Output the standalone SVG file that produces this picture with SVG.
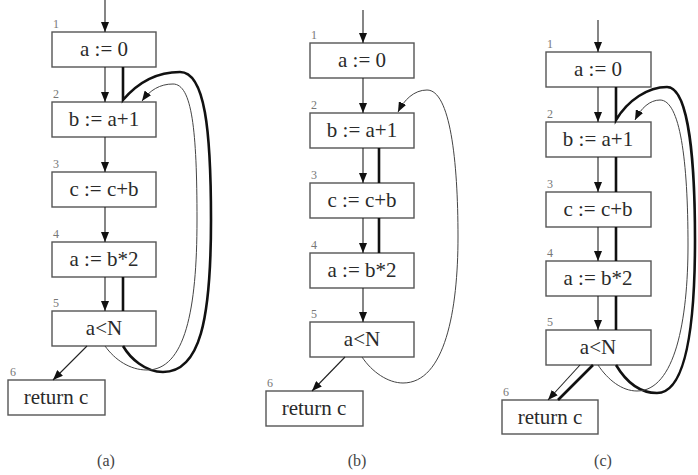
<svg xmlns="http://www.w3.org/2000/svg" width="698" height="475" viewBox="0 0 698 475" font-family="'Liberation Serif', 'Times New Roman', serif">
<defs>
<marker id="ah" markerUnits="userSpaceOnUse" markerWidth="10" markerHeight="8" refX="10" refY="4" orient="auto"><path d="M0,0 L10,4 L0,8 z" fill="#111"/></marker>
<style>
.box{fill:#fff;stroke:#555;stroke-width:1.4}
.t{font-family:'Liberation Serif','Times New Roman',serif;font-size:21px;fill:#2a2a2a;text-anchor:middle}
.n{font-family:'Liberation Serif','Times New Roman',serif;font-size:12px;fill:#777}
.cap{font-family:'Liberation Serif','Times New Roman',serif;font-size:16px;fill:#444;text-anchor:middle}
.a{fill:none;stroke:#222;stroke-width:1.1;marker-end:url(#ah)}
.thin{fill:none;stroke:#444;stroke-width:1}
.thick{fill:none;stroke:#111;stroke-width:2.6}
</style>
</defs>
<rect width="698" height="475" fill="#fff"/>

<!-- Panel (a) -->
<g id="a1"><rect class="box" x="52" y="32" width="104" height="35"/><text class="n" x="53" y="28">1</text><text class="t" x="104" y="56">a := 0</text></g>
<g id="a2"><rect class="box" x="52" y="102" width="104" height="35"/><text class="n" x="53" y="98">2</text><text class="t" x="104" y="126">b := a+1</text></g>
<g id="a3"><rect class="box" x="52" y="172" width="104" height="35"/><text class="n" x="53" y="168">3</text><text class="t" x="104" y="196">c := c+b</text></g>
<g id="a4"><rect class="box" x="52" y="242" width="104" height="35"/><text class="n" x="53" y="238">4</text><text class="t" x="104" y="266">a := b*2</text></g>
<g id="a5"><rect class="box" x="52" y="311" width="104" height="35"/><text class="n" x="53" y="307">5</text><text class="t" x="104" y="335">a&lt;N</text></g>
<g id="a6"><rect class="box" x="8" y="380" width="97" height="35"/><text class="n" x="10" y="376">6</text><text class="t" x="56" y="404">return c</text></g>
<text class="cap" x="106" y="466">(a)</text>

<!-- Panel (b) -->
<g id="b1"><rect class="box" x="310" y="43" width="104" height="35"/><text class="n" x="311" y="39">1</text><text class="t" x="362" y="67">a := 0</text></g>
<g id="b2"><rect class="box" x="310" y="113" width="104" height="35"/><text class="n" x="311" y="109">2</text><text class="t" x="362" y="137">b := a+1</text></g>
<g id="b3"><rect class="box" x="310" y="183" width="104" height="35"/><text class="n" x="311" y="179">3</text><text class="t" x="362" y="207">c := c+b</text></g>
<g id="b4"><rect class="box" x="310" y="253" width="104" height="35"/><text class="n" x="311" y="249">4</text><text class="t" x="362" y="277">a := b*2</text></g>
<g id="b5"><rect class="box" x="310" y="322" width="104" height="35"/><text class="n" x="311" y="318">5</text><text class="t" x="362" y="346">a&lt;N</text></g>
<g id="b6"><rect class="box" x="266" y="391" width="97" height="35"/><text class="n" x="267" y="387">6</text><text class="t" x="314" y="415">return c</text></g>
<text class="cap" x="357" y="466">(b)</text>

<!-- Panel (c) -->
<g id="c1"><rect class="box" x="546" y="52" width="105" height="35"/><text class="n" x="547" y="48">1</text><text class="t" x="598" y="76">a := 0</text></g>
<g id="c2"><rect class="box" x="546" y="122" width="105" height="35"/><text class="n" x="547" y="118">2</text><text class="t" x="598" y="146">b := a+1</text></g>
<g id="c3"><rect class="box" x="546" y="192" width="105" height="35"/><text class="n" x="547" y="188">3</text><text class="t" x="598" y="216">c := c+b</text></g>
<g id="c4"><rect class="box" x="546" y="261" width="105" height="35"/><text class="n" x="547" y="257">4</text><text class="t" x="598" y="285">a := b*2</text></g>
<g id="c5"><rect class="box" x="546" y="330" width="105" height="35"/><text class="n" x="547" y="326">5</text><text class="t" x="598" y="354">a&lt;N</text></g>
<g id="c6"><rect class="box" x="502" y="400" width="96" height="34"/><text class="n" x="503" y="396">6</text><text class="t" x="550" y="424">return c</text></g>
<text class="cap" x="603" y="466">(c)</text>

<g id="connectors">
<!-- (a) -->
<path class="a" d="M105,0 V32"/>
<path class="a" d="M105,67 V102"/>
<path class="a" d="M105,137 V172"/>
<path class="a" d="M105,207 V242"/>
<path class="a" d="M105,277 V311"/>
<path class="a" d="M87,346 L53,380"/>
<path class="thick" d="M123,67 V100 C140,80 160,72 180,72 C205,72 211,130 211,220 C211,320 200,372 163,372 C145,372 130,358 123,346"/>
<path class="thick" d="M123,277 V311"/>
<path class="thin" marker-end="url(#ah)" d="M105,346 C115,360 130,370 147,370 C185,370 197,310 197,220 C197,130 192,84 173,84 C160,84 150,90 142,101"/>
<!-- (b) -->
<path class="a" d="M363,10 V43"/>
<path class="a" d="M363,78 V113"/>
<path class="a" d="M363,148 V183"/>
<path class="a" d="M363,218 V253"/>
<path class="a" d="M363,288 V322"/>
<path class="a" d="M345,357 L312,391"/>
<path class="thick" d="M379,148 V183 M379,218 V253"/>
<path class="thin" marker-end="url(#ah)" d="M362,357 C372,372 388,383 403,383 C445,383 458,310 458,237 C458,160 450,90 427,90 C414,90 404,100 398,112"/>
<!-- (c) -->
<path class="a" d="M598,20 V52"/>
<path class="a" d="M598,87 V122"/>
<path class="a" d="M598,157 V192"/>
<path class="a" d="M598,227 V261"/>
<path class="a" d="M598,296 V330"/>
<path class="a" d="M580,365 L548,400"/>
<path class="thick" d="M593,365 L558,400"/>
<path class="thick" d="M616,87 V120 C628,100 648,87 667,87 C690,87 695,170 695,240 C695,330 685,393 657,393 C638,393 625,380 616,365"/>
<path class="thick" d="M616,157 V192 M616,227 V261 M616,296 V330"/>
<path class="thin" marker-end="url(#ah)" d="M598,365 C608,380 622,391 637,391 C675,391 688,320 688,245 C688,160 680,100 660,100 C650,100 641,108 635,120"/>
</g>
</svg>
